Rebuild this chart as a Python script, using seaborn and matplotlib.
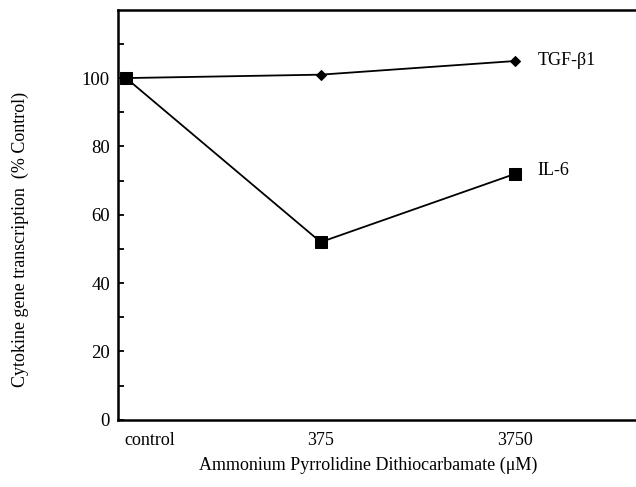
import numpy as np
import pandas as pd
import matplotlib
matplotlib.use('Agg')
import matplotlib.pyplot as plt
import matplotlib.transforms as mtransforms
import seaborn as sns

# данные
doses = ['control', '375', '3750']
tgf_b1 = [100, 101, 105]
il_6 = [100, 52, 72]

sns.set_style('ticks')
plt.rcParams['font.family'] = ['Liberation Serif', 'DejaVu Serif']
plt.rcParams['text.color'] = 'black'
plt.rcParams['axes.labelcolor'] = 'black'
plt.rcParams['xtick.color'] = 'black'
plt.rcParams['ytick.color'] = 'black'

df = pd.DataFrame({'pos': np.arange(len(doses)), 'TGF': tgf_b1, 'IL6': il_6})

fig, ax = plt.subplots(figsize=(6.36, 4.87), dpi=100)
fig.subplots_adjust(left=0.186, right=1.0, top=0.98, bottom=0.138)

sns.lineplot(x='pos', y='TGF', data=df, color='black', marker='D', markersize=5,
             linewidth=1.3, markeredgecolor='black', ax=ax)
sns.lineplot(x='pos', y='IL6', data=df, color='black', marker='s', markersize=8.5,
             linewidth=1.3, markeredgecolor='black', ax=ax)

ax.annotate('TGF-β1', xy=(df['pos'].iloc[-1], tgf_b1[-1]), xytext=(16, 0),
            textcoords='offset points', va='center', fontsize=13)
ax.annotate('IL-6', xy=(df['pos'].iloc[-1], il_6[-1]), xytext=(16, 2),
            textcoords='offset points', va='center', fontsize=13)

ax.set_xlim(-0.04, 2.62)
ax.set_ylim(0, 120)
ax.set_xticks(df['pos'])
ax.set_xticklabels(doses, fontsize=13)
ax.set_yticks(np.arange(0, 101, 20))
ax.set_yticks(np.arange(10, 111, 20), minor=True)
ax.tick_params(axis='y', which='both', direction='in', length=4, width=1.3,
               labelsize=13.5, pad=6)
ax.tick_params(axis='x', length=0, pad=9)

# сдвиг подписи "control" вправо
lbl = ax.get_xticklabels()[0]
lbl.set_transform(lbl.get_transform() + mtransforms.ScaledTranslation(0.24, 0, fig.dpi_scale_trans))

ax.set_xlabel('Ammonium Pyrrolidine Dithiocarbamate (μM)', fontsize=13)
ax.set_ylabel('Cytokine gene transcription  (% Control)', fontsize=13)
ax.xaxis.set_label_coords(0.483, -0.112)
ax.yaxis.set_label_coords(-0.19, 0.44)
ax.yaxis.label.set_va('center')
ax.xaxis.label.set_va('center')

ax.spines['right'].set_visible(False)
for s in ['left', 'bottom', 'top']:
    ax.spines[s].set_linewidth(1.8)
    ax.spines[s].set_color('black')

plt.savefig('out.png', dpi=100)
